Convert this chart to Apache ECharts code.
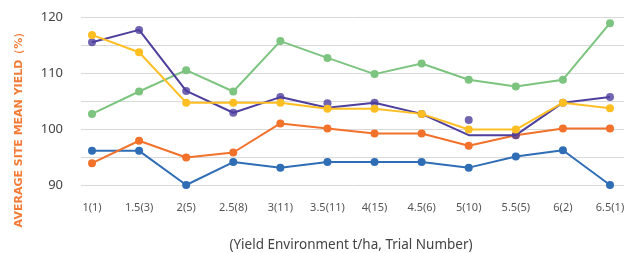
<!DOCTYPE html>
<html>
<head>
<meta charset="utf-8">
<script src="https://cdn.jsdelivr.net/npm/echarts@6/dist/echarts.min.js"></script>
<style>
  html, body { margin: 0; padding: 0; background: #fff; }
  #main { width: 624px; height: 253px; }
</style>
</head>
<body>
<div id="main"></div>
<script>
var categories = ['1(1)', '1.5(3)', '2(5)', '2.5(8)', '3(11)', '3.5(11)', '4(15)', '4.5(6)', '5(10)', '5.5(5)', '6(2)', '6.5(1)'];
var greenValues = [102.7, 106.7, 110.5, 106.7, 115.7, 112.7, 109.8, 111.7, 108.8, 107.6, 108.8, 118.9];
var blueValues = [96.1, 96.1, 90.0, 94.1, 93.1, 94.1, 94.1, 94.1, 93.1, 95.1, 96.2, 90.0];
var orangeValues = [93.9, 97.9, 94.9, 95.8, 101.0, 100.1, 99.2, 99.2, 97.0, 98.9, 100.1, 100.1];
var purpleLine = [115.5, 117.7, 106.8, 102.9, 105.7, 103.8, 104.7, 102.7, 98.9, 98.9, 104.7, 105.7];
var purpleDots = [115.5, 117.7, 106.8, 102.9, 105.7, 104.6, 104.7, 102.7, 101.6, 98.9, 104.7, 105.7];
var yellowValues = [116.8, 113.7, 104.7, 104.7, 104.7, 103.6, 103.6, 102.7, 99.9, 99.9, 104.7, 103.7];

var font = 'Noto Sans';
var myChart = echarts.init(document.getElementById('main'));

function line(name, data, color, z) {
    return {
        name: name, type: 'line', xAxisIndex: 1, yAxisIndex: 1, data: data,
        symbol: 'circle', symbolSize: 8, z: z,
        lineStyle: { color: color, width: 2 },
        itemStyle: { color: color }
    };
}

var option = {
    animation: false,
    grid: [
        { left: 81, right: 0, top: 17, height: 168, outerBoundsMode: 'none' },
        { left: 92, right: 14, top: 17, height: 168, outerBoundsMode: 'none' }
    ],
    xAxis: [
        { gridIndex: 0, type: 'value', min: 0, max: 1, show: false },
        {
            gridIndex: 1, type: 'category', data: categories, boundaryGap: false,
            axisLine: { show: false }, axisTick: { show: false },
            axisLabel: { color: '#555', fontSize: 11, fontFamily: font, margin: 17 },
            name: '(Yield Environment t/ha, Trial Number)',
            nameLocation: 'middle', nameGap: 53,
            nameTextStyle: { color: '#444', fontSize: 13.5, fontFamily: font }
        }
    ],
    yAxis: [
        {
            gridIndex: 0, type: 'value', min: 90, max: 120, interval: 5,
            axisLine: { show: false }, axisTick: { show: false },
            splitLine: { lineStyle: { color: '#d9d9d9', width: 1 } },
            axisLabel: {
                color: '#444', fontSize: 13, fontFamily: font, margin: 18,
                formatter: function (v) { return v % 10 === 0 ? v : ''; }
            },
            name: 'AVERAGE SITE MEAN YIELD（%）',
            nameLocation: 'middle', nameGap: 56, nameRotate: 90,
            nameTextStyle: {
                color: '#F47B35', fontSize: 11, fontWeight: 'bold', fontFamily: 'DejaVu Sans',
                padding: [0, 52, 0, 0]
            }
        },
        {
            gridIndex: 1, type: 'value', min: 90, max: 120, interval: 5,
            axisLine: { show: false }, axisTick: { show: false },
            splitLine: { show: false }, axisLabel: { show: false }
        }
    ],
    series: [
        line('green', greenValues, '#7CC47F', 2),
        line('blue', blueValues, '#2F6DB5', 3),
        line('orange', orangeValues, '#F2722B', 4),
        {
            name: 'purple line', type: 'line', xAxisIndex: 1, yAxisIndex: 1, data: purpleLine,
            showSymbol: false, z: 5,
            lineStyle: { color: '#4E3F9D', width: 2 }
        },
        {
            name: 'purple', type: 'scatter', xAxisIndex: 1, yAxisIndex: 1, data: purpleDots,
            symbol: 'circle', symbolSize: 8, z: 5,
            itemStyle: { color: '#4E3F9D' }
        },
        line('yellow', yellowValues, '#FFBF22', 6)
    ]
};
myChart.setOption(option);
</script>
</body>
</html>
